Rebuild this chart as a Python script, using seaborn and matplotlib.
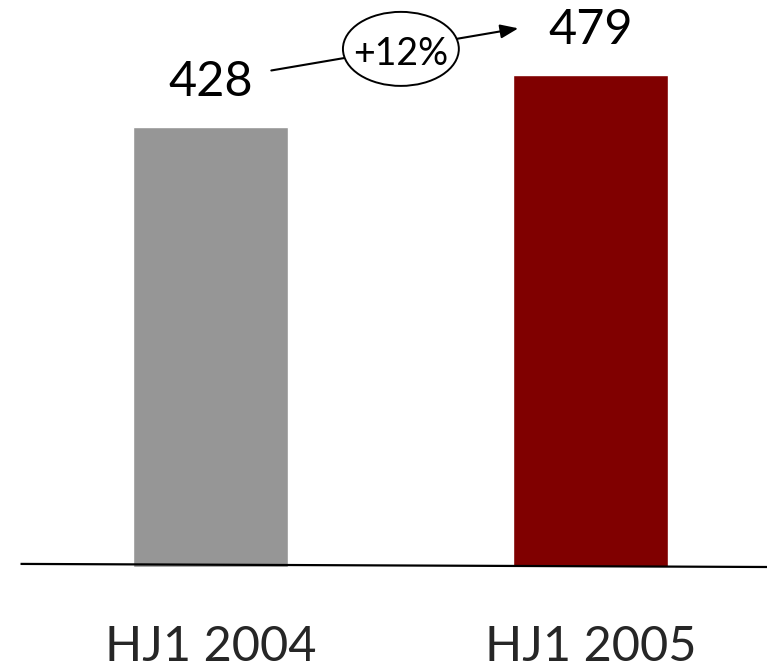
import matplotlib
matplotlib.use("Agg")
import matplotlib.pyplot as plt
from matplotlib.patches import Ellipse
import seaborn as sns
import pandas as pd

# Half-year figures
periods = ["HJ1 2004", "HJ1 2005"]
values = [428, 479]
bar_colors = ["#969696", "#800000"]

sns.set_theme(style="white")
plt.rcParams["font.family"] = ["Lato", "DejaVu Sans"]

df = pd.DataFrame({"period": periods, "value": values})

fig = plt.figure(figsize=(7.67, 6.72), dpi=100)
ax = fig.add_axes([0, 105 / 672, 1, 567 / 672])

sns.barplot(data=df, x="period", y="value", hue="period", palette=bar_colors,
            saturation=1, width=0.408, legend=False, ax=ax, zorder=2)

ax.set_xlim(-0.554, 1.4645)
ax.set_ylim(0, 567 / 1.028)

for s in ax.spines.values():
    s.set_visible(False)
ax.set_yticks([])
ax.set_xlabel("")
ax.set_ylabel("")
ax.tick_params(axis="x", length=0, pad=42, labelsize=35)
ax.set_facecolor("white")

# Baseline
ax.plot([-0.50, 1.4645], [3, 0], color="black", lw=1.6, zorder=3,
        clip_on=False, solid_capstyle="butt")

# Value labels above the bars
for i, v in enumerate(values):
    ax.annotate(f"{v}", xy=(i, v), xytext=(0, 22), textcoords="offset points",
                ha="center", va="baseline", fontsize=35, color="black")

# Growth arrow with percentage bubble
growth = round((values[1] / values[0] - 1) * 100)
ax.annotate("", xy=(0.81, values[1] + 45), xytext=(0.16, values[0] + 55),
            arrowprops=dict(arrowstyle="-|>,head_length=0.9,head_width=0.35",
                            color="black", lw=1.5, shrinkA=0, shrinkB=0),
            zorder=4)
mid_y = (values[0] + values[1]) / 2
ax.add_patch(Ellipse((0.501, mid_y + 50.5), 0.305, 72, facecolor="white",
                     edgecolor="black", lw=1.4, zorder=5))
ax.text(0.501, mid_y + 35, f"+{growth}%", ha="center", va="baseline",
        fontsize=27, color="black", zorder=6)

fig.savefig("out.png", dpi=100, facecolor="white")
